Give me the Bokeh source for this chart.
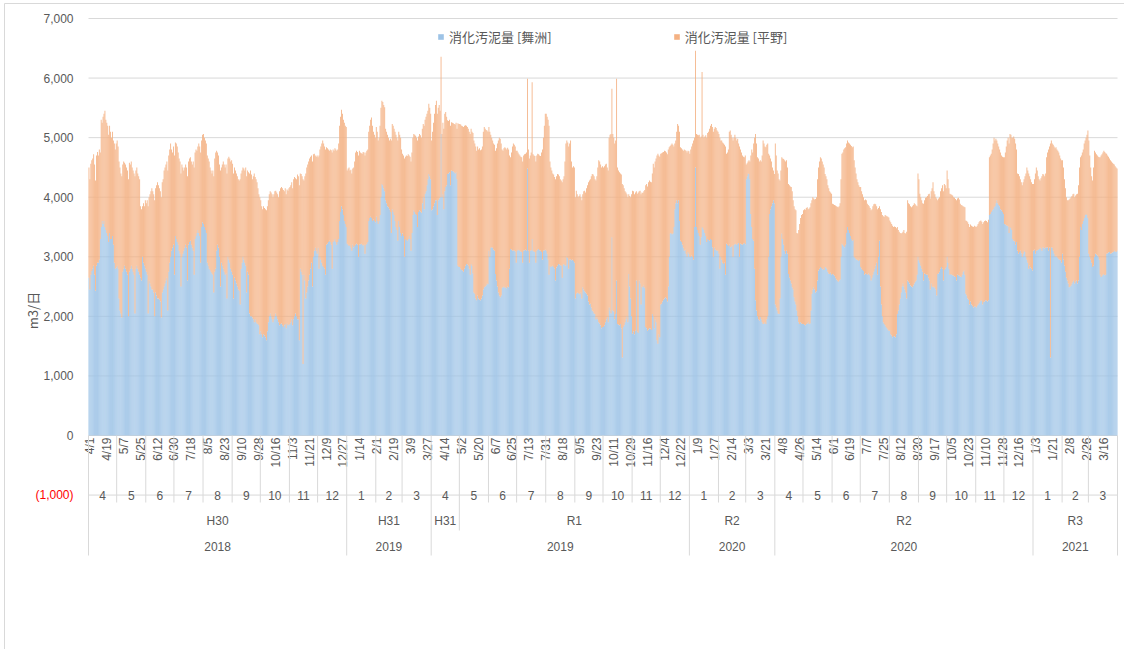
import math
import datetime as dt
from bokeh.plotting import figure
from bokeh.models import ColumnDataSource, Range1d, Legend, LegendItem
from bokeh.core.properties import value
from bokeh.embed import file_html
from bokeh.resources import INLINE

# ---------------- data (daily, m3/日), one inner list per month, Apr..Mar ----------------
START = dt.date(2018, 4, 1)
series_names = ["消化汚泥量 [舞洲]", "消化汚泥量 [平野]"]

maishima_fy2018 = [
    [2650,2450,2700,2760,2800,2850,2700,2430,2850,2900,2900,2950,3300,3500,3600,3550,3600,3500,3450,3400,3350,3250,3400,3300,3300,3350,3200,2900,2800,2820],
    [2850,2800,2300,2100,2050,1980,2750,2800,2850,2800,2750,2700,2000,2750,2800,2850,2800,2750,2700,2050,2800,2850,2800,2750,2700,2650,2600,3000,2900,2850,2800],
    [2750,2700,2050,2600,2550,2500,2450,2450,2400,2000,2400,2350,2300,2300,2280,2250,1980,2400,2450,2500,2550,2600,2650,2100,2750,2900,3000,3100,3150,3200],
    [2700,3350,3300,3250,3200,3100,3050,2500,3000,3050,3100,3150,3200,3150,2600,3200,3250,3270,3200,3150,3100,2700,3300,3350,3400,3450,3400,3350,2900,3500,3580],
    [3550,3500,3450,3400,2900,2850,2800,2780,2750,2720,2700,2400,2750,2800,3100,3200,3150,3000,2500,2900,2850,2800,2750,2700,2720,2300,3000,2950,2900,2800,2750],
    [2700,2300,2650,2600,2550,2500,2450,2430,2200,2800,2900,3000,2950,2900,2850,2400,2750,2700,2050,2000,2000,1980,1950,1900,1950,1900,1880,1870,1850,1700],
    [1750,1700,1650,1700,1680,1650,1600,1750,1900,2000,2050,2000,1950,1900,1950,2000,2050,2000,1950,1900,1850,1870,1880,1850,1820,1850,1870,1800,1880,1850,1860],
    [1870,1900,1950,1850,1950,2000,2050,2000,1950,1950,1600,2800,2750,2700,1200,2700,2600,2300,2400,2500,2600,2700,2800,2900,2500,3000,3100,3150,3100,3050],
    [3150,2800,3000,2950,2900,2850,2830,2800,2700,3200,3220,3250,3270,3250,3200,2800,3250,3270,3300,3250,3200,3250,3300,3600,3750,3850,3800,3700,3600,3550,3500],
    [3220,3200,3180,3200,3150,3100,3200,3160,3180,3200,3220,3200,3000,3200,3210,3220,3200,3190,3200,3050,3200,3220,3250,3600,3650,3670,3650,3600,3620,3600,3580],
    [3670,3600,3550,3600,3700,4000,4220,4200,4150,4100,3950,3900,3850,3830,3800,3750,3400,3800,3750,3700,3600,3500,3450,3270,3600,3500,3400,3350],
    [3390,3350,3000,3300,3280,3270,3300,3350,3300,3100,3400,3700,3780,3750,3720,3700,3500,3750,3780,3760,3740,3900,4000,3800,4060,4100,4200,4300,4390,4350,4300],
]
hirano_fy2018 = [
    [1850,1850,1860,1860,1850,1870,1850,1850,1850,1860,1800,1850,1450,1800,1650,1800,1800,1950,1850,1850,1850,1800,1800,1800,1700,1750,1750,2000,2000,2080],
    [2100,2050,2300,2400,2350,2370,1800,1800,1730,1750,1750,1750,2300,1830,1750,1750,1700,1700,1700,2300,1650,1650,1600,1600,1600,1200,1200,850,1000,1000,1150],
    [1150,1250,1800,1400,1500,1600,1700,1650,1650,1950,1750,1850,1950,1900,1870,1850,2020,1850,1850,1950,1950,1950,1950,2350,1950,1900,1900,1700,1600,1650],
    [2000,1570,1600,1600,1550,1550,1550,1900,1550,1450,1350,1350,1350,1350,1750,1400,1400,1400,1400,1400,1500,1800,1450,1450,1380,1400,1500,1500,1850,1450,1470],
    [1510,1500,1500,1500,1800,1800,1800,1720,1700,1680,1750,1950,1900,1950,1680,1550,1550,1550,1950,1600,1700,1800,1800,1800,1830,2100,1650,1730,1750,1800,1870],
    [1860,2100,1850,1850,1850,1850,1850,1850,2100,1600,1550,1500,1530,1550,1650,1950,1700,1720,2350,2450,2380,2320,2400,2500,2390,2400,2370,2280,2200,2300],
    [2200,2150,2150,2150,2140,2150,2180,2100,2050,2050,2050,2080,2100,2100,2100,2100,2060,2080,2100,2100,2250,2280,2290,2300,2300,2250,2280,2250,2250,2260,2290],
    [2300,2300,2300,2300,2350,2340,2270,2300,2430,2400,2600,1600,1640,1650,3100,1580,1750,2100,2100,2050,2000,1950,1880,1800,2100,1720,1630,1550,1580,1650],
    [1520,1900,1800,1900,2000,2100,2070,2050,2100,1640,1600,1550,1510,1550,1590,1950,1550,1510,1520,1550,1580,1550,1600,1600,1600,1620,1600,1600,1650,1650,1680],
    [1230,1280,1320,1250,1310,1300,1280,1340,1420,1550,1560,1560,1700,1580,1540,1520,1530,1570,1550,1650,1550,1560,1550,1500,1550,1630,1690,1600,1480,1450,1420],
    [1510,1500,1400,1400,1500,1500,1400,1400,1400,1410,1200,1200,1200,1170,1150,1230,1550,1430,1450,1450,1500,1550,1550,1680,1500,1550,1600,1450],
    [1340,1350,1650,1380,1420,1420,1420,1350,1380,1500,1350,1300,1280,1300,1310,1300,1450,1270,1280,1280,1260,1250,1230,1400,1240,1250,1200,1150,1180,1150,1100],
]
maishima_fy2019 = [
    [3780,3800,3850,3900,3950,3950,3700,3950,3980,4000,5060,4000,4050,3800,4100,4170,4200,4390,4400,4420,4200,4450,4440,4430,4420,4400,4420,4300,2850,2830],
    [2830,2800,2780,2770,2750,2800,2850,2880,2870,2850,2800,2700,2880,2850,2720,2400,2380,2300,2270,2350,2300,2280,2270,2300,2350,2450,2490,2500,2520,2550,2540],
    [3100,3000,3150,3160,3150,3120,3100,2710,2600,2500,2400,2350,2320,2350,2480,2490,2500,2480,2490,2470,2500,2490,2800,3130,3120,3100,3110,3100,3090,2900],
    [3100,3120,3110,3100,3090,3080,2900,3100,3110,3120,3100,4480,3100,2900,3100,3110,3300,3100,3090,3080,2900,3100,3120,3130,3110,3100,3080,2950,3100,3110,3120],
    [3100,3050,2950,2700,2850,2830,2840,2850,2830,2800,2600,2820,2850,2880,2870,2860,2850,2650,2870,2880,2860,2850,3000,2980,2800,2950,2960,2940,2950,2930,2900],
    [2300,2380,2400,2390,2380,2370,2400,2300,2490,2450,2420,2400,2380,2350,2250,2200,2210,2150,2100,2080,2050,2040,1950,1990,1950,1900,1880,1850,1800,1820],
    [1820,1850,1900,1950,1990,1900,2150,2100,2050,3330,2100,2080,1950,2040,2600,1870,1860,1850,1870,1800,1310,1820,1850,1900,1950,2000,1900,2710,2500,2300,2000],
    [1710,1750,1700,1760,2600,1740,1720,2600,2550,2200,2500,2490,2520,2480,1820,1800,1760,1780,1800,1790,1770,2040,2000,1800,1950,1900,1600,1540,1700,1650],
    [2200,2210,2250,2280,2300,2320,2300,2250,2500,3000,3390,3400,3380,3390,3500,3800,3900,3950,3900,3950,3600,3270,3250,3200,3150,3100,3120,3050,3000,3080,3050],
    [3000,3000,3020,3000,2950,3500,4500,3500,3450,3400,3350,3200,3330,3500,3480,3450,3400,3350,3250,3300,3280,3270,3300,3280,3160,3000,3150,3120,3110,3100,3100],
    [3050,2800,3000,2950,2900,2880,2900,2700,3220,3200,3180,3200,3160,3170,3190,3000,3200,3210,3220,3200,3220,3230,3000,3220,3210,3200,3220,3230,3210],
    [4300,4350,4400,4390,4300,3720,3500,3300,3270,2800,2270,2100,2000,1950,1930,1990,1950,1900,1870,1880,1900,1870,1950,2000,3000,3720,3800,3850,3900,3950,3900],
]
hirano_fy2019 = [
    [1170,1300,1400,1500,1600,1670,1700,1550,1570,1450,1300,1060,1200,1350,1300,1260,1150,900,880,880,1000,810,810,810,810,820,830,850,2390,2400],
    [2400,2420,2420,2420,2430,2400,2360,2320,2310,2300,2300,2360,2270,2250,2360,2550,2520,2550,2510,2500,2500,2540,2520,2500,2500,2650,2690,2650,2610,2570,2560],
    [2080,2100,1900,1840,1800,1780,1780,2070,2220,2400,2550,2650,2660,2550,2320,2290,2320,2360,2330,2330,2330,2310,1900,1540,1630,1750,1790,1780,1760,1880],
    [1680,1630,1610,1600,1590,1590,1700,1600,1610,1610,1650,1510,1700,1750,1600,1640,2630,1620,1610,1610,1700,1600,1610,1590,1590,1590,1670,1850,1900,2090,2280],
    [2300,2300,2350,2500,1750,1670,1610,1550,1550,1540,1700,1530,1540,1500,1480,1440,1430,1600,1430,1470,1740,2050,1950,1940,2050,1950,1990,1660,1550,1590,1600],
    [1700,1730,1650,1610,1640,1680,1600,1650,1560,1650,1690,1680,1770,1850,2000,2080,2090,2200,2290,2300,2300,2260,2330,2360,2550,2720,2720,2700,2700,2700],
    [2680,2670,2650,2610,2510,2550,2850,2950,3010,2490,2960,2920,2950,2910,3390,2630,2590,2570,2530,2580,2910,2380,2300,2200,2130,2050,2100,1340,1520,1700,2050],
    [2400,2350,2350,2320,1500,2320,2360,1500,1560,1850,1580,1580,1580,1640,2380,2420,2420,2470,2480,2470,2480,2360,2560,2700,2650,2750,3100,3190,3000,3030],
    [2530,2530,2500,2480,2480,2450,2450,2470,2300,1840,1470,1480,1520,1490,1350,1100,1050,1150,1330,1250,1500,1570,1570,1600,1630,1700,1670,1730,1750,1700,1720],
    [1730,1800,1830,1900,2000,1500,1960,1560,1600,1640,1700,1800,1690,2600,1570,1550,1620,1690,1750,1780,1820,1880,1900,1950,2020,2100,2000,2060,2050,2020,2000],
    [2010,2200,1950,2000,2020,2020,1980,2150,1510,1550,1620,1900,1960,1880,1810,1950,1800,1840,1780,1750,1760,1670,1850,1580,1540,1500,1460,1440,1490],
    [250,220,200,230,300,980,1300,1450,1630,2200,2790,2800,2670,2700,2670,2630,2650,2800,3080,3020,2950,2970,2930,2900,1730,980,850,750,600,500,490],
]
maishima_fy2020 = [
    [2200,2150,2100,2050,2040,2300,3000,3390,3300,3200,3100,3050,3100,3050,2710,2650,2600,2550,2490,2450,2320,2250,2200,2100,2000,1900,1870,1900,1880,1870],
    [1870,1860,1850,1870,1880,1900,1870,1880,2100,2380,2450,2490,2450,2400,2420,2600,2770,2800,2830,2810,2790,2800,2780,2830,2820,2800,2750,2720,2710,2730,2700],
    [2710,2700,2680,2650,2620,2600,2580,2600,2620,3000,3220,3200,3180,3160,3200,3400,3500,3450,3400,3350,3300,3270,3280,3000,2980,2960,2950,2940,2930,2950],
    [2830,2800,2780,2760,2700,2720,2710,2700,2720,2700,2680,2600,2650,2700,2750,2800,2850,2900,2700,3000,3270,2500,2200,2000,1900,1870,1850,1820,1800,1780,1760],
    [1760,1700,1680,1650,1670,1660,1650,1700,2040,2100,2200,2300,2400,2500,2550,2500,2450,2400,2300,2600,2580,2550,2520,2500,2490,2520,2550,2580,2600,2700,3000],
    [2940,2900,2850,2800,2750,2600,2720,2710,2700,2700,2650,2600,2450,2550,2500,2490,2500,2480,2450,2350,2710,2720,2750,2800,2830,2800,2600,2780,2800,2830],
    [3000,2900,2800,2700,2710,2700,2690,2680,2670,2660,2600,2700,2690,2680,2670,2660,2700,2750,2770,2700,2380,2350,2300,2280,2200,2250,2200,2180,2150,2170,2160],
    [2150,2180,2200,2220,2250,2270,2260,2200,2240,2250,2270,2260,2250,2270,3700,3720,3750,3780,3800,3830,3850,3900,3950,3900,3870,3850,3800,3780,3750,3720],
    [3550,3540,3530,3520,3510,3400,3500,3480,3450,3300,3270,3260,3200,3250,3100,3050,3080,3100,3060,3000,3050,3100,3080,3000,2950,2900,2800,2850,2820,2800,2770],
    [3100,3120,3050,3100,3110,3120,3130,3150,3140,3100,3160,3150,3140,3160,3150,3160,3100,3150,1310,3160,3150,3100,3050,3000,3020,3000,2980,2960,2950,2940,2900],
    [3050,2950,2850,2750,2650,2600,2550,2490,2500,2520,2550,2580,2600,2550,2580,2600,2550,2600,3000,3500,3450,3550,3600,3650,3700,3720,3700,3650],
    [3050,3000,2950,2900,2830,2850,3000,3050,3040,3020,3000,2950,2700,2660,2680,2700,2710,2690,2700,3050,3060,3070,3080,3050,3060,3070,3080,3100,3090,3080,3100],
]
hirano_fy2020 = [
    [2700,2550,2350,2350,2260,1980,1450,1280,1350,1440,1520,1550,1520,1450,1510,1550,1580,1620,1610,1500,1530,1550,1580,1300,1390,1550,1680,1750,1820,1850],
    [1910,1940,1940,1950,1950,1900,1940,1950,1800,1570,1550,1490,1510,1570,1580,1700,1730,1800,1840,1840,1810,1750,1720,1560,1530,1500,1450,1430,1390,1350,1360],
    [1180,1180,1190,1210,1230,1240,1250,1250,1280,1300,1510,1550,1620,1660,1640,1500,1450,1470,1500,1530,1560,1570,1570,1620,1520,1440,1350,1310,1270,1220],
    [1340,1300,1270,1240,1250,1240,1240,1190,1150,1150,1140,1180,1150,1150,1130,1090,1030,950,1100,820,580,1300,1550,1700,1780,1800,1850,1870,1880,1890,1900],
    [1850,1880,1870,1870,1830,1850,1850,1780,1460,1350,1220,1100,990,900,870,950,950,990,1120,1350,1320,1330,1330,1330,1360,1350,1350,1300,1260,1150,1400],
    [1360,1160,1150,1150,1150,1290,1230,1280,1300,1320,1400,1460,1530,1550,1650,1760,1600,1570,1550,1630,1240,1260,1250,1300,1320,1400,1500,1440,1400,1320],
    [1450,1400,1350,1360,1340,1340,1340,1320,1320,1310,1350,1280,1300,1280,1220,1210,1160,1100,1070,1130,1230,1250,1280,1270,1300,1290,1320,1330,1350,1350,1350],
    [1350,1340,1350,1360,1350,1340,1330,1350,1340,1350,1340,1340,1330,1350,970,980,980,1020,1100,1170,1100,1080,1000,1000,980,950,950,920,930,950],
    [1120,1210,1320,1430,1490,1500,1560,1570,1550,1700,1750,1720,1700,1550,1300,1340,1270,1200,1190,1200,1200,1200,1270,1400,1550,1550,1600,1500,1480,1450,1450],
    [1120,1180,1350,1400,1340,1230,1170,1130,1180,1250,1230,1230,1210,1240,1520,1590,1700,1700,3590,1790,1750,1780,1800,1820,1820,1800,1800,1790,1750,1710,1720],
    [1570,1550,1450,1400,1350,1350,1400,1470,1480,1480,1470,1470,1460,1450,1450,1450,1510,1600,1500,1170,1250,1200,1200,1250,1250,1280,1350,1470],
    [1900,1700,1550,1450,1450,1650,1780,1700,1680,1680,1680,1720,1970,2040,2040,2050,2070,2070,2040,1680,1640,1610,1570,1570,1540,1510,1480,1450,1430,1420,1380],
]

# axis grouping (upper category levels) and value-axis ticks
era_labels = ["H30", "H31", "H31", "R1", "R2", "R2", "R3"]
era_month_counts = [9, 3, 1, 8, 3, 9, 3]
year_labels = ["2018", "2019", "2019", "2020", "2020", "2021"]
year_month_counts = [9, 3, 9, 3, 9, 3]
y_ticks = [-1000, 0, 1000, 2000, 3000, 4000, 5000, 6000, 7000]
date_label_every = 18
y_title = "m3/日"


def flatten(fy_lists, fy_year):
    out = []
    for k, month in enumerate(fy_lists):
        y = fy_year + (1 if k >= 9 else 0)
        m = (3 + k) % 12 + 1
        nxt = dt.date(y + 1, 1, 1) if m == 12 else dt.date(y, m + 1, 1)
        nd = (nxt - dt.date(y, m, 1)).days
        assert len(month) == nd, f"{y}-{m}: {len(month)} != {nd}"
        out.extend(month)
    return out


maishima = (flatten(maishima_fy2018, 2018) + flatten(maishima_fy2019, 2019)
            + flatten(maishima_fy2020, 2020))
hirano = (flatten(hirano_fy2018, 2018) + flatten(hirano_fy2019, 2019)
          + flatten(hirano_fy2020, 2020))
n = len(maishima)
dates = [START + dt.timedelta(days=i) for i in range(n)]

BLUE = "#9dc3e6"
ORANGE = "#f4b183"
GRID = "#d9d9d9"
TXT = "#595959"
NUMFONT = "Liberation Sans"
JPFONT = "Noto Sans CJK JP"
W, H = 1124, 649

# layout: the plotting area of the bars, in canvas pixels
PL, PR = 88, 1117          # left / right edge of the bar area
PY7000, PY0 = 18, 435      # pixel rows of 7,000 and 0
KX = (PR - PL) / n         # px per day
KY = (PY0 - PY7000) / 7000.0


def xd(px):
    return -0.5 + (px - PL) / KX


def yd(py):
    return (PY0 - py) / KY


src = ColumnDataSource(dict(x=list(range(n)), maishima=maishima, hirano=hirano))

p = figure(width=W, height=H, output_backend="svg", toolbar_location=None,
           x_range=Range1d(xd(0), xd(W)), y_range=Range1d(yd(H), yd(0)),
           x_axis_location=None, y_axis_location=None,
           min_border_left=0, min_border_right=0, min_border_top=0, min_border_bottom=0,
           outline_line_color=None, background_fill_color="white", border_fill_color="white")
p.grid.visible = False

# chart-area border (top and left edges visible in the source)
p.segment(x0=[xd(4), xd(4)], y0=[yd(3), yd(3)], x1=[xd(W + 10), xd(4)],
          y1=[yd(3), yd(H + 10)], line_color=GRID, line_width=1)

# horizontal gridlines
p.segment(x0=[-0.5] * len(y_ticks), y0=y_ticks, x1=[n - 0.5] * len(y_ticks), y1=y_ticks,
          line_color=GRID, line_width=1)

rs = p.vbar_stack(["maishima", "hirano"], x="x", width=0.9, source=src,
                  fill_color=[BLUE, ORANGE], line_color=None)

# value-axis tick labels (negative shown in red, in parentheses)
ylab = [f"({-v:,})" if v < 0 else f"{v:,}" for v in y_ticks]
ycol = ["#ff0000" if v < 0 else TXT for v in y_ticks]
p.text(x=[-0.5] * len(y_ticks), y=y_ticks, text=ylab, text_color=ycol, x_offset=-15,
       text_align="right", text_baseline="middle", text_font=value(NUMFONT),
       text_font_size="12px")
p.text(x=[xd(32)], y=[yd(310)], text=[y_title], angle=math.pi / 2, text_align="center",
       text_baseline="middle", text_font=value(JPFONT), text_font_size="13px",
       text_color=TXT)

# lowest level: day labels every 18 days
idx = list(range(0, n, date_label_every))
p.text(x=idx, y=[yd(437)] * len(idx), text=[f"{dates[i].month}/{dates[i].day}" for i in idx],
       angle=math.pi / 2, text_align="right", text_baseline="middle", x_offset=1,
       text_font=value(NUMFONT), text_font_size="12px", text_color=TXT)

# month level
month_starts = [i for i, d in enumerate(dates) if d.day == 1] + [n]
mx = [(month_starts[k] + month_starts[k + 1] - 1) / 2 for k in range(len(month_starts) - 1)]
mt = [str(dates[month_starts[k]].month) for k in range(len(month_starts) - 1)]
p.text(x=mx, y=[-1000] * len(mx), text=mt, text_align="center", text_baseline="middle",
       text_font=value(NUMFONT), text_font_size="12px", text_color=TXT)


def group_centers(counts):
    cx, bounds, acc = [], [0], 0
    for c in counts:
        a, acc = acc, acc + c
        cx.append((month_starts[a] + month_starts[acc] - 1) / 2)
        bounds.append(acc)
    return cx, bounds


ex, era_b = group_centers(era_month_counts)
yx, year_b = group_centers(year_month_counts)
p.text(x=ex, y=[yd(520)] * len(ex), text=era_labels, text_align="center",
       text_baseline="middle", text_font=value(NUMFONT), text_font_size="12px", text_color=TXT)
p.text(x=yx, y=[yd(546)] * len(yx), text=year_labels, text_align="center",
       text_baseline="middle", text_font=value(NUMFONT), text_font_size="12px", text_color=TXT)

# separators between category groups
sx, sy1 = [], []
for k in range(len(month_starts)):
    if k in year_b:
        y1 = yd(555)
    elif k in era_b:
        y1 = yd(530)
    else:
        y1 = yd(502)
    sx.append(month_starts[k] - 0.5)
    sy1.append(y1)
p.segment(x0=sx, y0=[0] * len(sx), x1=sx, y1=sy1, line_color=GRID, line_width=1)

legend = Legend(items=[LegendItem(label=series_names[0], renderers=[rs[0]]),
                       LegendItem(label=series_names[1], renderers=[rs[1]])],
                orientation="horizontal", location=(437, H - 46), glyph_width=7,
                glyph_height=7, label_standoff=5, spacing=121, padding=0, margin=0,
                border_line_color=None, background_fill_alpha=0,
                label_text_font=JPFONT, label_text_font_size="13px",
                label_text_color=TXT, label_height=16)
p.add_layout(legend)

open("out.html", "w").write(file_html(p, INLINE))
